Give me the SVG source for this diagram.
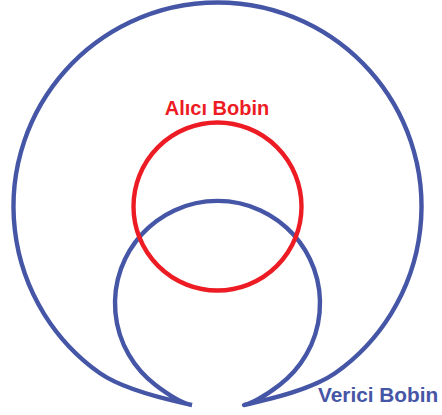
<svg xmlns="http://www.w3.org/2000/svg" width="442" height="415" viewBox="0 0 442 415">
<style>
.coil{fill:none;stroke-width:4.4;stroke-linecap:butt;stroke-linejoin:round}
.lbl{font-family:"Liberation Sans",Arial,sans-serif;font-weight:bold;font-size:20px}
</style>
<rect width="442" height="415" fill="#ffffff"/>
<g id="verici">
<path class="coil" stroke="#4656A6" d="M192,405 C180,402 128.6,393 100,373.3 A204,204 0 1 1 335,373.3 C306.4,393 255,402 244,405 C250,404 263.6,397.1 279.5,385 A102.5,102.5 0 1 0 155.5,385 C171.4,397.1 185,404 192,405"/>
<text class="lbl" x="318" y="402" fill="#4656A6" style="font-size:20.8px">Verici Bobin</text>
</g>
<g id="alici">
<circle class="coil" stroke="#ED1C24" cx="217.5" cy="206.5" r="84"/>
<text class="lbl" x="217" y="115" fill="#ED1C24" text-anchor="middle">Alıcı Bobin</text>
</g>
</svg>
